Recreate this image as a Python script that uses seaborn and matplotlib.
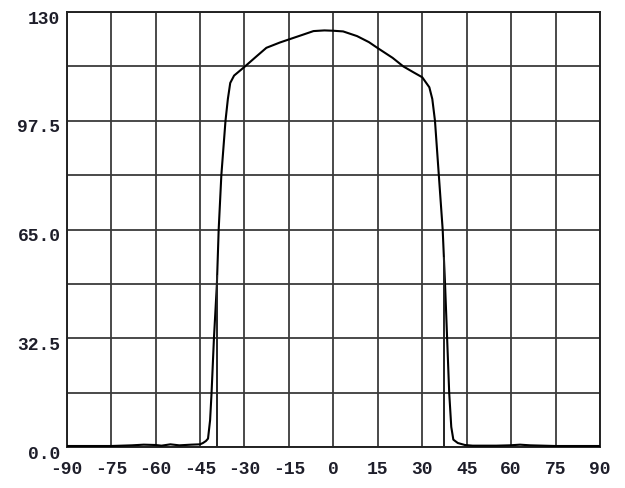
import numpy as np
import pandas as pd
import matplotlib
matplotlib.use("Agg")
import matplotlib.pyplot as plt
import matplotlib.transforms as mtransforms
import seaborn as sns
from matplotlib.ticker import MultipleLocator, FixedLocator, FixedFormatter

# ---- data ----
angle = [-90, -75, -68, -64, -60, -58, -55, -52, -48, -45, -44, -43, -42.3,
         -41.6, -41.1, -40.3, -39.3, -38.7, -37.8, -36.4, -35.6, -34.8, -33.5,
         -30, -26, -22.6, -18, -15, -10, -6.7, -3, 0, 3.3, 8, 12, 15, 20,
         23.6, 27, 30, 32.4, 33.4, 34.3, 35.6, 36.9, 37.7, 38.4, 39.1, 39.8,
         40.5, 42, 44.4, 47, 55, 59.5, 63, 66.5, 75, 90]
intensity = [0.3, 0.3, 0.5, 0.7, 0.6, 0.4, 0.8, 0.5, 0.7, 0.8, 1.2, 1.8, 2.5,
             8.0, 16.25, 32.5, 48.75, 65.0, 81.25, 97.5, 104.0, 108.8, 111.0,
             113.6, 116.7, 119.3, 120.9, 121.8, 123.3, 124.3, 124.5, 124.4,
             124.2, 122.8, 121.0, 119.2, 116.3, 113.75, 112.0, 110.5, 107.5,
             104.0, 97.5, 81.25, 65.0, 48.75, 32.5, 16.25, 6.0, 2.2, 1.2, 0.6,
             0.4, 0.4, 0.5, 0.7, 0.5, 0.3, 0.3]
beam_edges = [-39.2, 37.3]

x_ticks = [-90, -75, -60, -45, -30, -15, 0, 15, 30, 45, 60, 75, 90]
y_ticks = [0.0, 32.5, 65.0, 97.5, 130.0]
y_tick_labels = ["0.0", "32.5", "65.0", "97.5", "130"]
y_grid_step = 16.25

df = pd.DataFrame({"angle": angle, "intensity": intensity})

sns.set_theme(style="white")
plt.rcParams["font.family"] = ["Liberation Mono", "DejaVu Sans Mono"]
plt.rcParams["axes.unicode_minus"] = False

fig = plt.figure(figsize=(6.25, 4.88), dpi=100)
ax = fig.add_axes([0.1067, 0.084, 0.8533, 0.8914])

sns.lineplot(data=df, x="angle", y="intensity", ax=ax, color="black",
             linewidth=1.5, sort=False, zorder=3)

edge_heights = np.interp(beam_edges, angle, intensity)
ax.vlines(beam_edges, 0, edge_heights, color="#222222", linewidth=1.4, zorder=3)

ax.set_xlim(-90, 90)
ax.set_ylim(0, 130)
ax.xaxis.set_major_locator(FixedLocator(x_ticks))
ax.yaxis.set_major_locator(FixedLocator(y_ticks))
ax.yaxis.set_major_formatter(FixedFormatter(y_tick_labels))
ax.yaxis.set_minor_locator(MultipleLocator(y_grid_step))

ax.grid(True, which="both", color="#3a3a3a", linewidth=1.3)
ax.set_axisbelow(True)
for s in ax.spines.values():
    s.set_color("#222222")
    s.set_linewidth(1.4)

ax.tick_params(axis="both", which="both", length=0, labelsize=13,
               labelcolor="#1e1e2a")
ax.tick_params(axis="x", pad=10)
ax.tick_params(axis="y", pad=4.5)
for lab in ax.get_xticklabels() + ax.get_yticklabels():
    lab.set_fontweight("bold")
offset = mtransforms.ScaledTranslation(0, -5 / 100, fig.dpi_scale_trans)
for lab in ax.get_yticklabels():
    lab.set_transform(lab.get_transform() + offset)
ax.set_xlabel("")
ax.set_ylabel("")

fig.savefig("out.png", dpi=100, facecolor="white")
